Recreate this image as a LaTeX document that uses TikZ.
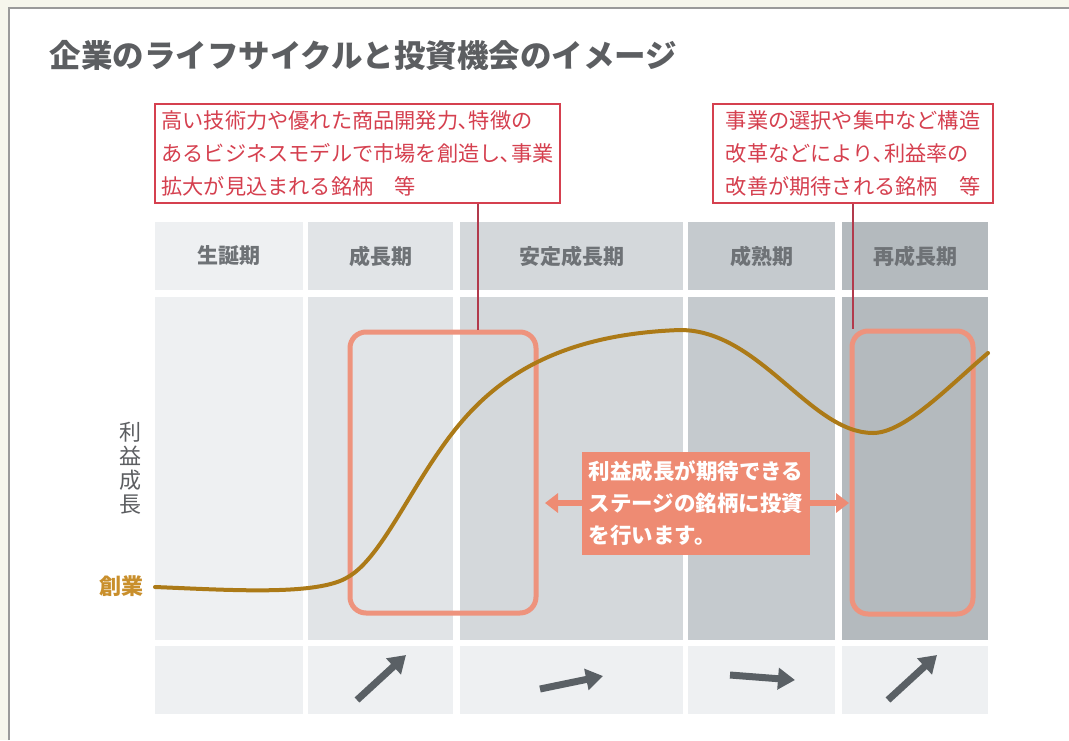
\documentclass[tikz,border=0pt]{standalone}
\usepackage{fontspec}
\setmainfont{Noto Sans CJK JP}
\usetikzlibrary{arrows.meta}
\definecolor{cream}{HTML}{F6F6EC}
\definecolor{framegray}{HTML}{9A9A9A}
\definecolor{titlegray}{HTML}{5C5E61}
\definecolor{hdrgray}{HTML}{6E7276}
\definecolor{cA}{HTML}{EEF0F2}
\definecolor{cB}{HTML}{E1E4E7}
\definecolor{cC}{HTML}{D4D8DB}
\definecolor{cD}{HTML}{C5CACE}
\definecolor{cE}{HTML}{B4BABE}
\definecolor{calred}{HTML}{D5404F}
\definecolor{calline}{HTML}{B23A4C}
\definecolor{salmon}{HTML}{EE937D}
\definecolor{salfill}{HTML}{EE8B73}
\definecolor{gold}{HTML}{AC7A17}
\definecolor{sogyo}{HTML}{C98F2C}
\definecolor{arrgray}{HTML}{5A6065}
\tikzset{
  cell/.style={rectangle, inner sep=0pt, outer sep=0pt, draw=none},
  hdr/.style={font=\fontsize{21}{24}\selectfont\bfseries, text=hdrgray},
  callout/.style={rectangle, draw=calred, line width=1.4pt, fill=white, inner sep=0pt,
    align=left, text=calred, font=\fontsize{21.2}{33}\selectfont},
  stagebox/.style={rectangle, rounded corners=16pt, draw=salmon, line width=5pt, inner sep=0pt},
  lead/.style={calline, line width=1.3pt},
  trend/.style={arrgray, line width=7pt, -{Triangle[width=21pt,length=17pt]}},
  lifecurve/.style={gold, line width=4pt, line cap=round},
}
\begin{document}
\begin{tikzpicture}[x=1pt,y=-1pt]
\useasboundingbox (0,0) rectangle (1069,740);
% background and frame
\fill[cream] (0,0) rectangle (1069,740);
\fill[white] (9,8) rectangle (1069,740);
\draw[framegray, line width=1.5pt] (9,740) -- (9,8) -- (1069,8);
% title
\node[text=titlegray, font=\fontsize{31.5}{34}\selectfont\bfseries, anchor=west] (title) at (46,55) {企業のライフサイクルと投資機会のイメージ};
% header row
\node[cell, fill=cA, minimum width=148pt, minimum height=68pt] (h1) at (229,256) {};
\node[cell, fill=cB, minimum width=145pt, minimum height=68pt] (h2) at (380.5,256) {};
\node[cell, fill=cC, minimum width=223pt, minimum height=68pt] (h3) at (571.5,256) {};
\node[cell, fill=cD, minimum width=147pt, minimum height=68pt] (h4) at (761.5,256) {};
\node[cell, fill=cE, minimum width=146pt, minimum height=68pt] (h5) at (915,256) {};
\node[hdr] (t1) at (h1) {生誕期};
\node[hdr] (t2) at (h2) {成長期};
\node[hdr] (t3) at (h3) {安定成長期};
\node[hdr] (t4) at (h4) {成熟期};
\node[hdr] (t5) at (h5) {再成長期};
% main row
\node[cell, fill=cA, minimum width=148pt, minimum height=343pt] (m1) at (229,468.5) {};
\node[cell, fill=cB, minimum width=145pt, minimum height=343pt] (m2) at (380.5,468.5) {};
\node[cell, fill=cC, minimum width=223pt, minimum height=343pt] (m3) at (571.5,468.5) {};
\node[cell, fill=cD, minimum width=147pt, minimum height=343pt] (m4) at (761.5,468.5) {};
\node[cell, fill=cE, minimum width=146pt, minimum height=343pt] (m5) at (915,468.5) {};
% bottom row
\node[cell, fill=cA, minimum width=148pt, minimum height=68pt] (b1) at (229,680) {};
\node[cell, fill=cA, minimum width=145pt, minimum height=68pt] (b2) at (380.5,680) {};
\node[cell, fill=cA, minimum width=223pt, minimum height=68pt] (b3) at (571.5,680) {};
\node[cell, fill=cA, minimum width=147pt, minimum height=68pt] (b4) at (761.5,680) {};
\node[cell, fill=cA, minimum width=146pt, minimum height=68pt] (b5) at (915,680) {};
% axis labels
\node[text=titlegray, font=\fontsize{22}{24}\selectfont, align=center] (axis) at (130,468) {利\\益\\成\\長};
\node[text=sogyo, font=\fontsize{22}{25}\selectfont\bfseries] (sogyo) at (121,586) {創業};
% callouts
\node[callout, minimum width=405pt, minimum height=99pt] (call1) at (357.5,153.5)
  {高い技術力や優れた商品開発力､特徴の\\あるビジネスモデルで市場を創造し､事業\\拡大が見込まれる銘柄　等};
\node[callout, minimum width=280pt, minimum height=99pt] (call2) at (853,153.5)
  {事業の選択や集中など構造\\改革などにより､利益率の\\改善が期待される銘柄　等};
% stage boxes
\node[stagebox, minimum width=186pt, minimum height=281pt] (boxA) at (443,472.5) {};
\node[stagebox, minimum width=121pt, minimum height=283pt] (boxB) at (912.5,472.5) {};
% leader lines
\draw[lead] (call1.south -| 478,0) -- (boxA.north -| 478,0);
\draw[lead] (call2.south) -- (boxB.north -| call2.south);
% double arrow and label
\coordinate (arrL) at (545,503);
\coordinate (arrR) at (849,503);
\draw[salfill, line width=6pt, {Triangle[width=19pt,length=13pt]}-{Triangle[width=19pt,length=13pt]}] (arrL) -- (arrR);
\node[rectangle, fill=salfill, inner sep=0pt, minimum width=228pt, minimum height=103pt,
  text=white, align=left, font=\fontsize{21.5}{32}\selectfont\bfseries] (label) at (696,503.5)
  {利益成長が期待できる\\ステージの銘柄に投資\\を行います。};
% life cycle curve
\draw[lifecurve] (155,587) .. controls (230,590) and (318,596) .. (348,577)
  .. controls (378,560) and (405,500) .. (440,450)
  .. controls (480,392) and (540,335) .. (680,330)
  .. controls (760,330) and (810,433) .. (873,433)
  .. controls (905,433) and (950,385) .. (988,353);
% trend arrows
\coordinate (a2s) at (357,700); \coordinate (a2e) at (406,655);
\coordinate (a3s) at (540,689); \coordinate (a3e) at (603,676);
\coordinate (a4s) at (730,675); \coordinate (a4e) at (795,680);
\coordinate (a5s) at (888,700); \coordinate (a5e) at (937,655);
\draw[trend] (a2s) -- (a2e);
\draw[trend] (a3s) -- (a3e);
\draw[trend] (a4s) -- (a4e);
\draw[trend] (a5s) -- (a5e);
\end{tikzpicture}
\end{document}
